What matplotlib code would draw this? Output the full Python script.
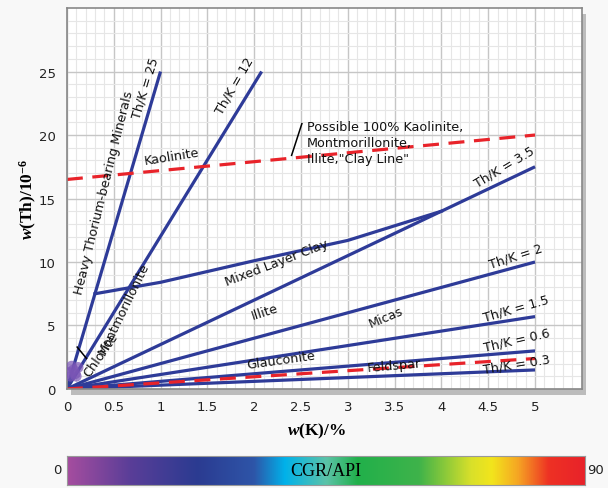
import numpy as np
import matplotlib.pyplot as plt
from matplotlib.colors import LinearSegmentedColormap
from matplotlib.patches import Rectangle

plt.rcParams['mathtext.fontset'] = 'custom'
plt.rcParams['mathtext.it'] = 'Liberation Serif:bold:italic'
plt.rcParams['mathtext.rm'] = 'Liberation Serif:bold'

# ratio lines Th/K (end points)
ratio_names = ['25', '12', '3.5', '2', '1.5', '0.6', '0.3']
ratio_end_k = [1.0, 2.08, 5, 5, 5, 5, 5]
ratio_end_th = [25, 25, 17.5, 10.0, 5.7, 3.0, 1.5]

# red dashed lines
clay_k = [0, 5]
clay_th = [16.5, 20.0]
feld_k = [0, 5]
feld_th = [0, 2.4]

# mixed layer clay curve
mix_k = [0.3, 1.0, 2.0, 3.0, 4.0]
mix_th = [7.5, 8.4, 10.1, 11.7, 14.0]

# chlorite blob
chl_k = [0.02, 0.05, 0.09, 0.12, 0.04, 0.1, 0.07]
chl_th = [1.3, 1.8, 1.2, 1.7, 1.0, 1.0, 1.5]

# labels: text, k, th, rotation
labels = [
    ('Heavy Thorium-bearing Minerals', 0.40, 15.5, 76),
    ('Th/K = 25', 0.84, 23.8, 73),
    ('Th/K = 12', 1.79, 23.9, 60),
    ('Kaolinite', 1.12, 18.3, 9),
    ('Th/K = 3.5', 4.67, 17.5, 31),
    ('Mixed Layer Clay', 2.24, 10.0, 21),
    ('Montmorillonite', 0.61, 6.4, 64),
    ('Chlorite', 0.36, 2.7, 55),
    ('Illite', 2.11, 6.1, 18),
    ('Micas', 3.41, 5.7, 23),
    ('Th/K = 2', 4.79, 10.5, 18),
    ('Th/K = 1.5', 4.8, 6.4, 16),
    ('Th/K = 0.6', 4.8, 3.9, 13),
    ('Th/K = 0.3', 4.8, 2.0, 9),
    ('Glauconite', 2.29, 2.3, 8),
    ('Feldspar', 3.49, 1.9, 5),
]

xticks = np.arange(0, 5.01, 0.5)
yticks = np.arange(0, 26, 5)

blue = '#2e3b98'
red = '#e8232a'

fig = plt.figure(figsize=(6.08, 4.89), dpi=100)
fig.patch.set_facecolor('#f8f8f8')
ax = fig.add_axes([0.110, 0.2025, 0.847, 0.779])

# drop shadow behind axes
fig.patches.append(Rectangle((0.117, 0.191), 0.847, 0.779, transform=fig.transFigure,
                             facecolor='#bcbcbc', edgecolor='none', zorder=-1))

ax.set_facecolor('white')
ax.set_xlim(0, 5.5)
ax.set_ylim(0, 30)
ax.set_xticks(xticks)
ax.set_xticklabels([('%g' % v) for v in xticks])
ax.set_yticks(yticks)
ax.set_xticks(np.arange(0, 5.5, 0.1), minor=True)
ax.set_yticks(np.arange(0, 30, 1), minor=True)
ax.grid(which='major', color='#c6c6c6', linewidth=1.0)
ax.grid(which='minor', color='#e6e6e6', linewidth=0.8)
ax.set_axisbelow(True)
ax.tick_params(which='both', length=0, labelsize=9.5, labelcolor='#222222', pad=8)
for s in ax.spines.values():
    s.set_color('#888888')
    s.set_linewidth(1.2)

for k, th in zip(ratio_end_k, ratio_end_th):
    ax.plot([0, k], [0, th], color=blue, lw=2.3, solid_capstyle='butt')
ax.plot(mix_k, mix_th, color=blue, lw=2.3)
ax.plot(clay_k, clay_th, color=red, lw=2.3, dashes=(5, 3))
ax.plot(feld_k, feld_th, color=red, lw=2.3, dashes=(5, 3))
ax.scatter(chl_k, chl_th, s=60, color='#7a55b5', alpha=0.7, edgecolors='none', zorder=3)

# pointer lines
ax.plot([2.40, 2.51], [18.4, 20.9], color='black', lw=1.1)
ax.plot([0.11, 0.21], [3.3, 2.4], color='black', lw=1.1)

for txt, k, th, rot in labels:
    ax.text(k, th, txt, rotation=rot, ha='center', va='center', fontsize=9.2,
            rotation_mode='anchor', color='#111111')

ax.text(2.56, 19.4, 'Possible 100% Kaolinite,\nMontmorillonite,\nIllite,"Clay Line"',
        ha='left', va='center', fontsize=9.2, linespacing=1.3, color='#111111')

fig.text(0.046, 0.593, r'$\mathit{w}$(Th)/10$^{-6}$', rotation=90, ha='center', va='center',
         fontsize=12.5, family='Liberation Serif', weight='bold')
fig.text(0.52, 0.118, r'$\mathit{w}$(K)/%', ha='center', va='center',
         fontsize=12.5, family='Liberation Serif', weight='bold')

# colour bar
cmap = LinearSegmentedColormap.from_list('cgr', [
    (0.0, '#a54d9f'), (0.12, '#5a3e98'), (0.25, '#2b3b91'), (0.36, '#2e55a8'),
    (0.42, '#00b2ea'), (0.5, '#5cc3a8'), (0.56, '#21b04b'), (0.68, '#3fb34a'),
    (0.78, '#d9e02a'), (0.82, '#f2e51c'), (0.87, '#f6a623'), (0.93, '#ee3124'),
    (1.0, '#e8222a')])
cax = fig.add_axes([0.110, 0.0065, 0.852, 0.058])
cax.imshow(np.linspace(0, 1, 256)[None, :], aspect='auto', cmap=cmap, extent=(0, 90, 0, 1))
cax.set_xticks([])
cax.set_yticks([])
for s in cax.spines.values():
    s.set_color('#999999')
    s.set_linewidth(0.8)
cax.text(45, 0.5, 'CGR/API', ha='center', va='center', fontsize=13, family='Liberation Serif')
fig.text(0.094, 0.038, '0', ha='center', va='center', fontsize=9.5, color='#222222')
fig.text(0.980, 0.038, '90', ha='center', va='center', fontsize=9.5, color='#222222')

fig.savefig('out.png', dpi=100, facecolor=fig.get_facecolor())
